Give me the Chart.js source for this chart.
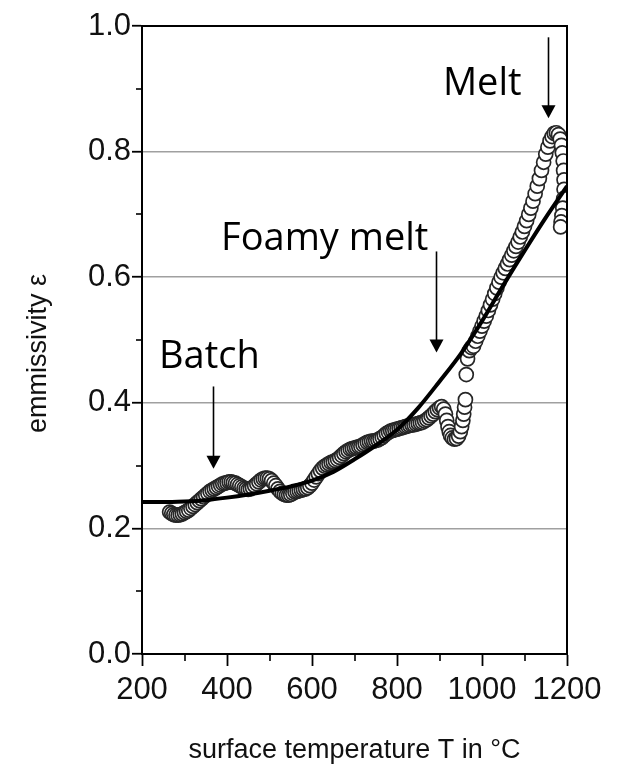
<!DOCTYPE html>
<html><head><meta charset="utf-8">
<script src="https://cdn.jsdelivr.net/npm/chart.js@4.4.0/dist/chart.umd.min.js"></script>
<style>html,body{margin:0;padding:0;background:#fff}#wrap{width:620px;height:769px}</style>
</head><body><div id="wrap"><canvas id="c" width="620" height="769"></canvas></div>
<script>
// measured emissivity (open circles)
const measT = [265,270,275,280,285,290,295,300,305,310,315,320,325,330,335,340,345,350,355,360,
365,370,375,380,385,390,395,400,405,410,415,420,425,430,435,440,445,450,455,460,
465,470,475,480,485,490,495,500,505,510,515,520,525,530,535,540,545,550,555,560,
565,570,575,580,585,590,595,600,605,610,615,620,625,630,635,640,645,650,655,660,
665,670,675,680,685,690,695,700,705,710,715,720,725,730,735,740,745,750,755,760,
765,770,775,780,785,790,795,800,805,810,815,820,825,830,835,840,845,850,855,860,
865,870,875,880,885,890,895,900,905,
910,914,917,920,923,926,930,935,940,945,949,952,955,957,959,961,963,966,970,975,
980,985,990,995,1000,1005,1010,1015,1020,1025,1030,1035,1040,1045,1050,1055,1060,1065,1070,1075,
1080,1085,1090,1095,1100,1105,1110,1115,1120,1125,1130,1135,1140,1145,1150,1155,1160,1165,1170,1175,
1180,1184,1187,1189,1191,1192,1193,1193,1192,1190,1188,1186,1185];
const measE = [0.226,0.224,0.222,0.221,0.221,0.222,0.223,0.225,0.227,0.229,0.232,0.235,0.238,0.241,0.244,0.247,0.250,0.253,0.256,0.259,
0.261,0.263,0.265,0.267,0.269,0.271,0.272,0.273,0.274,0.274,0.273,0.272,0.270,0.268,0.266,0.264,0.263,0.262,0.263,0.265,
0.268,0.271,0.274,0.277,0.279,0.280,0.280,0.279,0.276,0.272,0.268,0.263,0.259,0.256,0.254,0.253,0.253,0.254,0.256,0.258,
0.259,0.260,0.261,0.262,0.263,0.265,0.268,0.272,0.277,0.282,0.287,0.292,0.296,0.299,0.301,0.303,0.305,0.306,0.308,0.310,
0.313,0.316,0.319,0.322,0.324,0.326,0.327,0.328,0.329,0.330,0.331,0.333,0.335,0.337,0.338,0.339,0.339,0.340,0.341,0.343,
0.345,0.348,0.351,0.353,0.355,0.356,0.357,0.358,0.359,0.360,0.361,0.362,0.363,0.364,0.365,0.365,0.366,0.367,0.368,0.369,
0.371,0.373,0.376,0.379,0.382,0.386,0.389,0.392,0.394,
0.390,0.382,0.372,0.362,0.354,0.348,0.344,0.342,0.343,0.347,0.354,0.362,0.372,0.382,0.393,0.405,0.445,0.470,0.483,0.488,
0.490,0.498,0.506,0.514,0.522,0.530,0.538,0.547,0.556,0.565,0.574,0.583,0.592,0.600,0.607,0.614,0.621,0.628,0.635,0.642,
0.649,0.656,0.664,0.672,0.681,0.690,0.700,0.710,0.721,0.733,0.745,0.757,0.770,0.783,0.796,0.807,0.817,0.824,0.829,0.830,
0.827,0.820,0.810,0.798,0.785,0.770,0.755,0.740,0.725,0.710,0.698,0.688,0.680];
// fitted curve
const fitT = [200,250,300,350,400,450,500,550,600,650,700,750,800,850,900,950,1000,1050,1100,1150,1200];
const fitE = [0.242,0.242,0.243,0.245,0.249,0.254,0.260,0.267,0.276,0.290,0.310,0.332,0.357,0.392,0.434,0.478,0.530,0.587,0.642,0.695,0.745];
// axis ticks
const xMajor = [200,400,600,800,1000,1200];
const xMinor = [300,500,700,900,1100];
const yMajor = [0,0.2,0.4,0.6,0.8,1.0];
const yMinor = [0.1,0.3,0.5,0.7,0.9];
// annotations (data coordinates)
const notes = [
  {text:'Melt', tx:908, ty:0.89, ax:1155, a0:0.982, a1:0.853},
  {text:'Foamy melt', tx:386, ty:0.644, ax:892, a0:0.641, a1:0.48},
  {text:'Batch', tx:240, ty:0.456, ax:367, a0:0.426, a1:0.295}
];

const SANS = '"Liberation Sans",Arial,sans-serif';

const extras = {
  id:'extras',
  afterDatasetsDraw(chart){
    const {ctx, chartArea:a, scales:{x,y}} = chart;
    ctx.save();
    ctx.strokeStyle='#000'; ctx.lineWidth=2;
    ctx.strokeRect(a.left, a.top, a.right-a.left, a.bottom-a.top);
    ctx.lineWidth=1.6;
    xMinor.forEach(v=>{const px=Math.round(x.getPixelForValue(v)); ctx.beginPath(); ctx.moveTo(px,a.bottom); ctx.lineTo(px,a.bottom+7); ctx.stroke();});
    yMinor.forEach(v=>{const py=Math.round(y.getPixelForValue(v)); ctx.beginPath(); ctx.moveTo(a.left,py); ctx.lineTo(a.left-6,py); ctx.stroke();});
    ctx.fillStyle='#000';
    ctx.font='38px "Open Sans","Noto Sans",sans-serif';
    ctx.textBaseline='alphabetic'; ctx.textAlign='left';
    notes.forEach(n=>{
      ctx.fillText(n.text, x.getPixelForValue(n.tx), y.getPixelForValue(n.ty));
      const ax=Math.round(x.getPixelForValue(n.ax))+0.5, y0=y.getPixelForValue(n.a0), y1=y.getPixelForValue(n.a1);
      ctx.lineWidth=1.6;
      ctx.beginPath(); ctx.moveTo(ax,y0); ctx.lineTo(ax,y1-12); ctx.stroke();
      ctx.beginPath(); ctx.moveTo(ax-7,y1-13); ctx.lineTo(ax+7,y1-13); ctx.lineTo(ax,y1); ctx.closePath(); ctx.fill();
    });
    ctx.restore();
  }
};

new Chart(document.getElementById('c'), {
  type:'scatter',
  data:{datasets:[
    {type:'line', label:'fit', data:fitT.map((t,i)=>({x:t,y:fitE[i]})), borderColor:'#000', borderWidth:4,
     pointRadius:0, tension:0.4, cubicInterpolationMode:'monotone', fill:false},
    {label:'measured', data:measT.map((t,i)=>({x:t,y:measE[i]})), pointRadius:7, pointBorderWidth:1.7,
     borderColor:'#262626', backgroundColor:'#ffffff', pointStyle:'circle', showLine:false}
  ]},
  options:{
    responsive:false, animation:false, devicePixelRatio:1,
    layout:{padding:{top:26,right:53,left:0,bottom:0}},
    plugins:{legend:{display:false}, tooltip:{enabled:false}},
    scales:{
      x:{type:'linear', min:200, max:1200, position:'bottom',
        afterBuildTicks:s=>{s.ticks = xMajor.map(v=>({value:v}));},
        afterFit:s=>{s.height=115;},
        ticks:{font:{family:SANS,size:31}, color:'#111', padding:6, maxRotation:0, autoSkip:false,
          callback:v=>String(v)},
        grid:{drawOnChartArea:false, drawTicks:true, tickLength:12, tickColor:'#000', tickWidth:1.8},
        border:{display:true, color:'#000', width:2},
        title:{display:true, text:'surface temperature T in °C', color:'#111', font:{family:SANS,size:27}, padding:{top:0,bottom:2}}
      },
      y:{type:'linear', min:0, max:1,
        afterBuildTicks:s=>{s.ticks = yMajor.map(v=>({value:v}));},
        afterFit:s=>{s.width=142;},
        ticks:{font:{family:SANS,size:31}, color:'#111', padding:1, autoSkip:false, callback:v=>v.toFixed(1)},
        grid:{color:c=>(c.tick && (c.tick.value===0 || c.tick.value===1)) ? 'rgba(0,0,0,0)' : '#a0a0a0',
          lineWidth:1.5, drawTicks:true, tickLength:10, tickColor:'#000', tickWidth:1.8},
        border:{display:true, color:'#000', width:2},
        title:{display:true, text:'emmissivity ε\u2003', color:'#111', font:{family:SANS,size:27}, padding:{top:22}}
      }
    }
  },
  plugins:[extras]
});
</script></body></html>
